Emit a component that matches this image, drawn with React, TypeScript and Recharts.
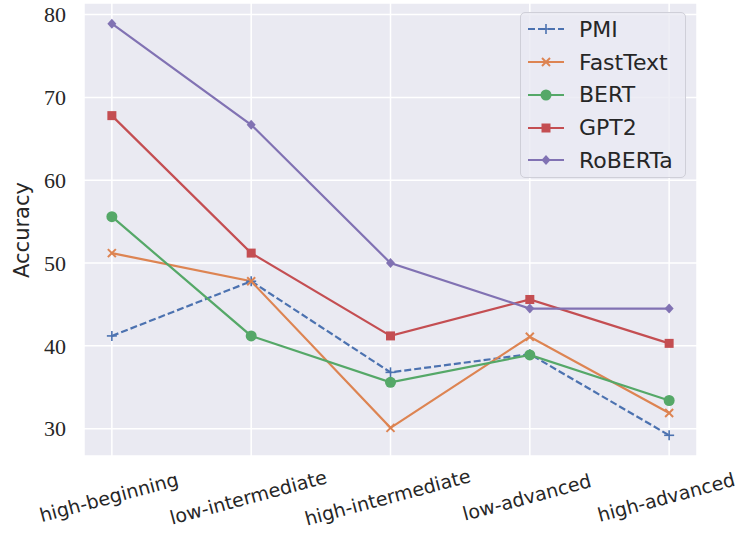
import { CartesianGrid, Legend, Line, LineChart, XAxis, YAxis } from "recharts";

const categories = ["high-beginning", "low-intermediate", "high-intermediate", "low-advanced", "high-advanced"];
const pmi = [41.2, 47.8, 36.8, 39.0, 29.2];
const fastText = [51.2, 47.8, 30.1, 41.1, 31.9];
const bert = [55.6, 41.2, 35.6, 38.9, 33.4];
const gpt2 = [67.8, 51.2, 41.2, 45.6, 40.3];
const roberta = [78.9, 66.7, 50.0, 44.5, 44.5];
const yTicks = [30, 40, 50, 60, 70, 80];

type Marker = "plus" | "x" | "circle" | "square" | "diamond";

const series: { key: string; name: string; color: string; marker: Marker; dash?: string }[] = [
  { key: "pmi", name: "PMI", color: "#4C72B0", marker: "plus", dash: "7 3" },
  { key: "fastText", name: "FastText", color: "#DD8452", marker: "x" },
  { key: "bert", name: "BERT", color: "#55A868", marker: "circle" },
  { key: "gpt2", name: "GPT2", color: "#C44E52", marker: "square" },
  { key: "roberta", name: "RoBERTa", color: "#8172B3", marker: "diamond" },
];

const data = categories.map((name, i) => ({
  idx: i,
  name,
  pmi: pmi[i],
  fastText: fastText[i],
  bert: bert[i],
  gpt2: gpt2[i],
  roberta: roberta[i],
}));

function drawMarker(marker: Marker, cx: number, cy: number, color: string, key?: string) {
  switch (marker) {
    case "plus":
      return (
        <g key={key}>
          <line x1={cx - 5} y1={cy} x2={cx + 5} y2={cy} stroke={color} strokeWidth={1.6} />
          <line x1={cx} y1={cy - 5} x2={cx} y2={cy + 5} stroke={color} strokeWidth={1.6} />
        </g>
      );
    case "x":
      return (
        <g key={key}>
          <line x1={cx - 4} y1={cy - 4} x2={cx + 4} y2={cy + 4} stroke={color} strokeWidth={2} />
          <line x1={cx - 4} y1={cy + 4} x2={cx + 4} y2={cy - 4} stroke={color} strokeWidth={2} />
        </g>
      );
    case "circle":
      return <circle key={key} cx={cx} cy={cy} r={5.5} fill={color} />;
    case "square":
      return <rect key={key} x={cx - 4.5} y={cy - 4.5} width={9} height={9} fill={color} />;
    case "diamond":
      return <polygon key={key} points={`${cx},${cy - 5} ${cx + 4.5},${cy} ${cx},${cy + 5} ${cx - 4.5},${cy}`} fill={color} />;
  }
}

function XTick({ x, y, payload }: any) {
  return (
    <g transform={`translate(${x - 3},${y})`}>
      <text
        x={0}
        y={39}
        textAnchor="middle"
        dominantBaseline="central"
        transform="rotate(-15, 0, 39)"
        fontFamily="DejaVu Sans"
        fontSize={19}
        fill="#262626"
      >
        {categories[payload.value]}
      </text>
    </g>
  );
}

function LegendBox() {
  return (
    <div
      style={{
        width: 166,
        height: 166,
        boxSizing: "border-box",
        border: "1px solid #cfcfd8",
        borderRadius: 5,
        background: "rgba(234,234,242,0.8)",
        fontFamily: "DejaVu Sans",
        fontSize: 22,
        color: "#262626",
      }}
    >
      {series.map((s) => (
        <div key={s.key} style={{ display: "flex", alignItems: "center", height: 32.75, paddingLeft: 7 }}>
          <svg width={36} height={20} style={{ marginRight: 15 }}>
            <line x1={0} y1={10} x2={36} y2={10} stroke={s.color} strokeWidth={2.2} strokeDasharray={s.dash} />
            {drawMarker(s.marker, 18, 10, s.color)}
          </svg>
          <span>{s.name}</span>
        </div>
      ))}
    </div>
  );
}

export default function App() {
  return (
    <div style={{ position: "absolute", left: 0, top: 0 }}>
      <LineChart width={740} height={539} data={data} margin={{ top: 3, right: 43, bottom: 0, left: 0 }}>
        <CartesianGrid stroke="#ffffff" strokeWidth={1.5} fill="#EAEAF2" fillOpacity={1} />
        <XAxis
          dataKey="idx"
          type="number"
          domain={[-0.2, 4.2]}
          ticks={[0, 1, 2, 3, 4]}
          axisLine={false}
          tickLine={false}
          tickSize={0}
          height={83}
          tick={<XTick />}
        />
        <YAxis
          type="number"
          domain={[26.7, 81.4]}
          ticks={yTicks}
          axisLine={false}
          tickLine={false}
          tickSize={0}
          tickMargin={18}
          width={84}
          tick={{ fontFamily: "Liberation Serif", fontSize: 22, fill: "#262626" }}
          label={{
            content: () => (
              <text
                x={22}
                y={230}
                textAnchor="middle"
                dominantBaseline="central"
                transform="rotate(-90, 22, 230)"
                fontFamily="DejaVu Sans"
                fontSize={21}
                fill="#262626"
              >
                Accuracy
              </text>
            ),
          }}
        />
        <Legend
          layout="vertical"
          align="center"
          verticalAlign="middle"
          wrapperStyle={{ left: 520, top: 12, width: 166 }}
          content={() => <LegendBox />}
        />
        {series.map((s) => (
          <Line
            key={s.key}
            dataKey={s.key}
            name={s.name}
            stroke={s.color}
            strokeWidth={2.2}
            strokeDasharray={s.dash}
            isAnimationActive={false}
            dot={(p: any) => drawMarker(s.marker, p.cx, p.cy, s.color, `${s.key}-${p.index}`)}
            activeDot={false}
          />
        ))}
      </LineChart>
    </div>
  );
}
